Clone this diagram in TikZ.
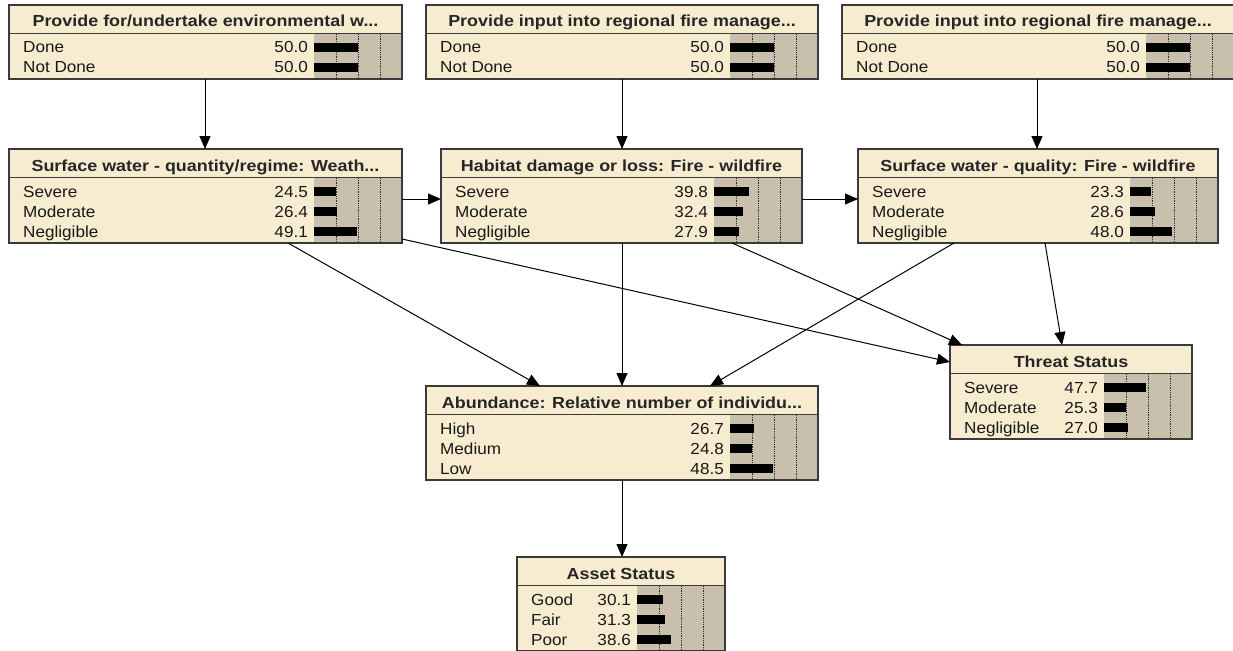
\documentclass[tikz,border=0pt]{standalone}
\usepackage{fontspec}
\setmainfont{Liberation Sans}
\newfontfamily\bnfont{Liberation Sans}[FakeStretch=1.07]
\newfontfamily\bntfont{Liberation Sans}[FakeStretch=1.12]
\usetikzlibrary{arrows.meta}
\definecolor{bncream}{HTML}{F7ECCF}
\definecolor{bngray}{HTML}{C8C0AC}
\definecolor{bnborder}{HTML}{3A3A3A}
\tikzset{
  bnrow/.style={font=\bnfont\fontsize{16}{19}\selectfont, inner sep=0pt, text=black!90},
  bntitle/.style={font=\bntfont\bfseries\fontsize{16}{19}\selectfont, inner sep=0pt, text=black!85},
  bnframe/.style={draw=bnborder, line width=1.3pt},
  bnbar/.style={fill=black},
  bngrid/.style={densely dotted, line width=0.8pt, black!80},
  arr/.style={-{Triangle[length=13pt,width=11pt]}, line width=1pt, black}
}
% #1 name, #2 left x, #3 top y, #4 width, #5 rows, #6 title, #7 rows label/value
\newcommand\bnnode[7]{%
  \pgfmathsetmacro\bnh{34+20*#5}%
  \pgfmathsetmacro\bngx{#2+#4-88}%
  \node[minimum width=#4pt, minimum height=\bnh pt, inner sep=0pt, outer sep=0pt,
        anchor=north west, fill=bncream] (#1) at (#2,#3) {};
  \fill[bngray] (\bngx,#3+28.5) rectangle (#2+#4,#3+\bnh);
  \foreach \k in {1,2,3}{\draw[bngrid] (\bngx+22*\k,#3+29) -- (\bngx+22*\k,#3+\bnh);}
  \foreach \lab/\val [count=\i from 0] in {#7}{%
    \fill[bnbar] (\bngx,#3+38+20*\i) rectangle (\bngx+0.88*\val,#3+47+20*\i);
    \node[bnrow, anchor=base west] at (#2+14,#3+48+20*\i) {\lab};
    \node[bnrow, anchor=base east] at (\bngx-6,#3+48+20*\i) {\val};
  }
  \node[bntitle, anchor=base] at (#2+#4/2,#3+22) {#6};
  \draw[bnframe] (#2,#3+28.5) -- (#2+#4,#3+28.5);
  \draw[bnframe] (#1.north west) rectangle (#1.south east);
}
\begin{document}
\begin{tikzpicture}[x=1pt,y=-1pt]
\useasboundingbox (0,0) rectangle (1233,650);
\clip (0,0) rectangle (1233,650);
\fill[white] (0,0) rectangle (1233,650);

\bnnode{b1}{9}{5}{393}{2}{Provide for/undertake environmental w...}{Done/50.0, Not Done/50.0}
\bnnode{b3}{426}{5}{392}{2}{Provide input into regional fire manage...}{Done/50.0, Not Done/50.0}
\bnnode{b5}{842}{5}{392}{2}{Provide input into regional fire manage...}{Done/50.0, Not Done/50.0}

\bnnode{b2}{9}{149}{393}{3}{Surface water - quantity/regime: Weath...}{Severe/24.5, Moderate/26.4, Negligible/49.1}
\bnnode{b4}{441}{149}{361}{3}{Habitat damage or loss: Fire - wildfire}{Severe/39.8, Moderate/32.4, Negligible/27.9}
\bnnode{b6}{858}{149}{360}{3}{Surface water - quality: Fire - wildfire}{Severe/23.3, Moderate/28.6, Negligible/48.0}

\bnnode{b7}{950}{345}{242}{3}{Threat Status}{Severe/47.7, Moderate/25.3, Negligible/27.0}
\bnnode{b8}{426}{386}{392}{3}{Abundance: Relative number of individu...}{High/26.7, Medium/24.8, Low/48.5}
\bnnode{b9}{517}{557}{208}{3}{Asset Status}{Good/30.1, Fair/31.3, Poor/38.6}

% connectors
\draw[arr] ([xshift=196pt]b1.south west) -- ([xshift=196pt]b2.north west);
\draw[arr] ([xshift=196pt]b3.south west) -- ([xshift=181pt]b4.north west);
\draw[arr] ([xshift=195pt]b5.south west) -- ([xshift=179pt]b6.north west);
\draw[arr] ([yshift=-50pt]b2.north east) -- ([yshift=-50pt]b4.north west);
\draw[arr] ([yshift=-50pt]b4.north east) -- ([yshift=-50pt]b6.north west);
\draw[arr] ([xshift=279pt]b2.south west) -- ([xshift=114pt]b8.north west);
\draw[arr] ([yshift=4pt]b2.south east) -- ([yshift=-17pt]b7.north west);
\draw[arr] ([xshift=181pt]b4.south west) -- ([xshift=196pt]b8.north west);
\draw[arr] ([xshift=291pt]b4.south west) -- ([xshift=12pt]b7.north west);
\draw[arr] ([xshift=96pt]b6.south west) -- ([xshift=284pt]b8.north west);
\draw[arr] ([xshift=187pt]b6.south west) -- ([xshift=112pt]b7.north west);
\draw[arr] ([xshift=196pt]b8.south west) -- ([xshift=105pt]b9.north west);
\end{tikzpicture}
\end{document}
